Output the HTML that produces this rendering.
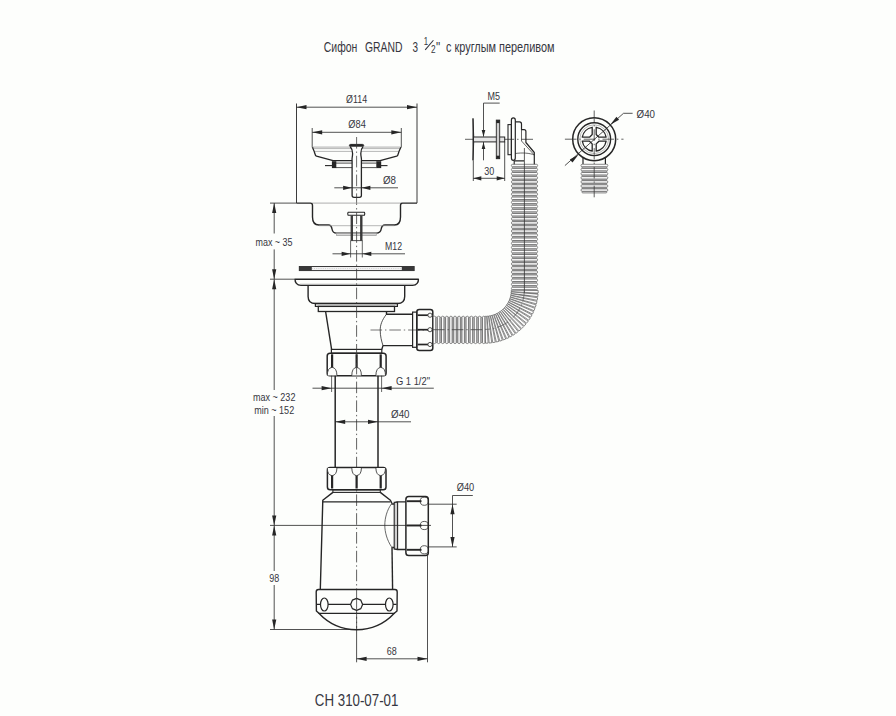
<!DOCTYPE html>
<html><head><meta charset="utf-8"><style>
html,body{margin:0;padding:0;background:#fdfefc;}
svg{display:block;font-family:"Liberation Sans",sans-serif;}
</style></head><body>
<svg width="896" height="716" viewBox="0 0 896 716">
<rect width="896" height="716" fill="#fdfefc"/>
<text x="323.8" y="52.2" font-size="14.2" text-anchor="start" fill="#363640" textLength="33.6" lengthAdjust="spacingAndGlyphs" >Сифон</text>
<text x="365" y="52.2" font-size="14.2" text-anchor="start" fill="#363640" textLength="37.5" lengthAdjust="spacingAndGlyphs" >GRAND</text>
<text x="412.5" y="52.2" font-size="14.2" text-anchor="start" fill="#363640" textLength="5.5" lengthAdjust="spacingAndGlyphs" >3</text>
<text x="425.9" y="45.3" font-size="10.4" text-anchor="middle" fill="#363640" textLength="4.4" lengthAdjust="spacingAndGlyphs" >1</text>
<line x1="425.2" y1="49.8" x2="433.4" y2="40.25" stroke="#363640" stroke-width="1.1" />
<text x="433.2" y="53" font-size="11" text-anchor="middle" fill="#363640" textLength="4.6" lengthAdjust="spacingAndGlyphs" >2</text>
<text x="436.1" y="52.2" font-size="14.2" text-anchor="start" fill="#363640" textLength="4.2" lengthAdjust="spacingAndGlyphs" >&quot;</text>
<text x="446" y="52.2" font-size="14.2" text-anchor="start" fill="#363640" textLength="108.5" lengthAdjust="spacingAndGlyphs" >с круглым переливом</text>
<line x1="296.5" y1="103.5" x2="296.5" y2="203.1" stroke="#262626" stroke-width="0.9" />
<line x1="417" y1="103.5" x2="417" y2="203.1" stroke="#262626" stroke-width="0.9" />
<line x1="296.5" y1="107.2" x2="417" y2="107.2" stroke="#262626" stroke-width="0.8" />
<polygon points="296.5,107.2 306.5,105.1 306.5,109.3" fill="#262626"/>
<polygon points="417,107.2 407,109.3 407,105.1" fill="#262626"/>
<text x="356.6" y="103" font-size="10.5" text-anchor="middle" fill="#363640" textLength="21" lengthAdjust="spacingAndGlyphs" >Ø114</text>
<line x1="312.2" y1="128" x2="312.2" y2="147.5" stroke="#262626" stroke-width="0.8" />
<line x1="401.3" y1="128" x2="401.3" y2="147.5" stroke="#262626" stroke-width="0.8" />
<line x1="312.2" y1="132.3" x2="401.3" y2="132.3" stroke="#262626" stroke-width="0.8" />
<polygon points="312.2,132.3 322.2,130.2 322.2,134.4" fill="#262626"/>
<polygon points="401.3,132.3 391.3,134.4 391.3,130.2" fill="#262626"/>
<text x="357.1" y="128.2" font-size="10.5" text-anchor="middle" fill="#363640" textLength="17.5" lengthAdjust="spacingAndGlyphs" >Ø84</text>
<line x1="312.5" y1="147.1" x2="401.2" y2="147.1" stroke="#9a9a9a" stroke-width="0.8" />
<line x1="313.5" y1="148.6" x2="400.2" y2="148.6" stroke="#9a9a9a" stroke-width="0.7" />
<line x1="314.5" y1="151.4" x2="399" y2="151.4" stroke="#9a9a9a" stroke-width="0.7" />
<path d="M312.5,147.2 C313.2,149.5 314.4,151.5 314.5,152.5 C315,154.5 315.5,155.8 316.5,156.2 L333.1,160.7 L380.1,160.7 L396.7,156.2 C397.7,155.8 398.2,154.5 398.7,152.5 C398.8,151.5 400,149.5 400.8,147.2" stroke="#262626" stroke-width="1.3" fill="none" stroke-linejoin="round" />
<line x1="336" y1="163.1" x2="376.5" y2="163.1" stroke="#262626" stroke-width="0.8" />
<line x1="336" y1="167.6" x2="376.5" y2="167.6" stroke="#262626" stroke-width="0.8" />
<rect x="331.9" y="161.2" width="4.4" height="6.9" rx="0" stroke="#262626" stroke-width="0" fill="#262626" />
<rect x="376.3" y="161.2" width="4.9" height="6.9" rx="0" stroke="#262626" stroke-width="0" fill="#262626" />
<line x1="325" y1="165.6" x2="332" y2="165.6" stroke="#262626" stroke-width="1.1" />
<line x1="381" y1="165.6" x2="387.5" y2="165.6" stroke="#262626" stroke-width="1.1" />
<path d="M350.2,146.7 L349.4,145.6 Q349.4,144.4 350.6,144.4 L362.5,144.4 Q363.7,144.4 363.7,145.6 L362.9,146.7 Z" stroke="#262626" stroke-width="1.0" fill="#262626" stroke-linejoin="round" />
<path d="M350.3,146.7 C352,148.5 352.6,150 352.6,153.4 C352.6,157 351.6,158.5 352.1,161 L352.1,195.5 Q352.1,197.3 354,197.3 L359.5,197.3 Q361.4,197.3 361.4,195.5 L361.4,161 C361.9,158.5 360.8,157 360.8,153.4 C360.8,150 361.5,148.5 363,146.7" stroke="#262626" stroke-width="1.3" fill="#fdfefc" stroke-linejoin="round" />
<line x1="356.6" y1="137" x2="356.6" y2="205" stroke="#3a3a3a" stroke-width="0.75" stroke-dasharray="11.6,2.9,1.4,2.9" stroke-dashoffset="0"/>
<line x1="334.3" y1="187.8" x2="398" y2="187.8" stroke="#262626" stroke-width="0.8" />
<polygon points="352.1,187.8 343.1,189.9 343.1,185.7" fill="#262626"/>
<polygon points="361.4,187.8 370.4,185.7 370.4,189.9" fill="#262626"/>
<text x="389.5" y="184" font-size="10.5" text-anchor="middle" fill="#363640" textLength="13" lengthAdjust="spacingAndGlyphs" >Ø8</text>
<line x1="270" y1="203.1" x2="296.5" y2="203.1" stroke="#262626" stroke-width="0.8" />
<line x1="312" y1="203.1" x2="401.9" y2="203.1" stroke="#9a9a9a" stroke-width="0.8" />
<path d="M296.5,203.1 L310.5,203.1 Q312.5,203.1 312.5,205.5 L312.5,217 C312.5,222.5 314.5,225 319,225 L328.5,225 C331,225 331.6,226.5 332,229 C332.5,232 333.5,233.1 336.5,233.1 L376.2,233.1 C379.5,233.1 380.8,232 381.2,229 C381.6,226.5 382.2,225 385,225 L394.5,225 C399,225 400.5,222.5 400.5,217 L400.5,205.5 Q400.5,203.1 402.5,203.1 L417,203.1" stroke="#262626" stroke-width="1.4" fill="none" stroke-linejoin="round" />
<line x1="319" y1="225.7" x2="394.5" y2="225.7" stroke="#9a9a9a" stroke-width="0.7" />
<rect x="336.5" y="233.3" width="39.8" height="2.3" rx="0" stroke="#9a9a9a" stroke-width="0.7" fill="#d6d6d6" />
<path d="M348.1,212.3 L364.4,212.3 Q365.2,213.8 364.4,215.3 L348.1,215.3 Q347.3,213.8 348.1,212.3 Z" stroke="#262626" stroke-width="1.1" fill="none" stroke-linejoin="round" />
<rect x="350.6" y="215.5" width="1.9" height="25" rx="0" stroke="#262626" stroke-width="0" fill="#3c3c3c" />
<rect x="360.6" y="215.5" width="1.9" height="25" rx="0" stroke="#262626" stroke-width="0" fill="#3c3c3c" />
<line x1="352.5" y1="215.5" x2="352.5" y2="240.6" stroke="#262626" stroke-width="0.8" />
<line x1="360.6" y1="215.5" x2="360.6" y2="240.6" stroke="#262626" stroke-width="0.8" />
<line x1="350.6" y1="240.6" x2="362.5" y2="240.6" stroke="#262626" stroke-width="0.8" />
<line x1="350.6" y1="240.6" x2="350.6" y2="257.5" stroke="#262626" stroke-width="0.7" />
<line x1="362.3" y1="240.6" x2="362.3" y2="257.5" stroke="#262626" stroke-width="0.7" />
<line x1="332.5" y1="253.8" x2="405" y2="253.8" stroke="#262626" stroke-width="0.8" />
<polygon points="350.6,253.8 341.6,255.9 341.6,251.7" fill="#262626"/>
<polygon points="362.3,253.8 371.3,251.7 371.3,255.9" fill="#262626"/>
<text x="393.5" y="250" font-size="10.5" text-anchor="middle" fill="#363640" textLength="17" lengthAdjust="spacingAndGlyphs" >M12</text>
<rect x="299.3" y="266.5" width="114.8" height="4.1" rx="0" stroke="#262626" stroke-width="0.9" fill="#f2f2f2" />
<line x1="311.8" y1="268.55" x2="401.8" y2="268.55" stroke="#bbb" stroke-width="0.6" stroke-dasharray="1,1.2"/>
<rect x="299" y="266.3" width="12.8" height="4.5" rx="0" stroke="#262626" stroke-width="0" fill="#383838" />
<rect x="401.8" y="266.3" width="12.5" height="4.5" rx="0" stroke="#262626" stroke-width="0" fill="#383838" />
<line x1="274.2" y1="203.1" x2="274.2" y2="233.5" stroke="#262626" stroke-width="0.8" />
<line x1="274.2" y1="249.4" x2="274.2" y2="279" stroke="#262626" stroke-width="0.8" />
<polygon points="274.2,203.1 276.3,213.1 272.1,213.1" fill="#262626"/>
<polygon points="274.2,279.2 272.1,269.2 276.3,269.2" fill="#262626"/>
<text x="274" y="246" font-size="10.5" text-anchor="middle" fill="#363640" textLength="37" lengthAdjust="spacingAndGlyphs" >max ~ 35</text>
<line x1="270" y1="279.2" x2="295" y2="279.2" stroke="#262626" stroke-width="0.8" />
<line x1="274.2" y1="279.2" x2="274.2" y2="390" stroke="#262626" stroke-width="0.8" />
<line x1="274.2" y1="416" x2="274.2" y2="525.4" stroke="#262626" stroke-width="0.8" />
<polygon points="274.2,279.2 276.3,289.2 272.1,289.2" fill="#262626"/>
<polygon points="274.2,525.4 272.1,515.4 276.3,515.4" fill="#262626"/>
<text x="274.2" y="400.5" font-size="10.5" text-anchor="middle" fill="#363640" textLength="42.5" lengthAdjust="spacingAndGlyphs" >max ~ 232</text>
<text x="274.2" y="414" font-size="10.5" text-anchor="middle" fill="#363640" textLength="40" lengthAdjust="spacingAndGlyphs" >min ~ 152</text>
<line x1="274.2" y1="525.4" x2="274.2" y2="571" stroke="#262626" stroke-width="0.8" />
<line x1="274.2" y1="585" x2="274.2" y2="629.5" stroke="#262626" stroke-width="0.8" />
<polygon points="274.2,525.4 276.3,535.4 272.1,535.4" fill="#262626"/>
<polygon points="274.2,629.5 272.1,619.5 276.3,619.5" fill="#262626"/>
<text x="274.3" y="582" font-size="10.5" text-anchor="middle" fill="#363640" textLength="10" lengthAdjust="spacingAndGlyphs" >98</text>
<line x1="270" y1="629.5" x2="356.6" y2="629.5" stroke="#262626" stroke-width="0.8" />
<path d="M295.1,279.2 L418.4,279.2 C418.6,282.2 416.8,285.4 412.5,285.4 L301,285.4 C296.7,285.4 294.9,282.2 295.1,279.2 Z" stroke="#262626" stroke-width="1.4" fill="none" stroke-linejoin="round" />
<line x1="300" y1="284.2" x2="413.5" y2="284.2" stroke="#9a9a9a" stroke-width="0.6" />
<path d="M308.1,285.4 L308.1,296.5 C308.1,301 310.5,303.5 315.4,303.5 L397.4,303.5 C402.3,303.5 404.7,301 404.7,296.5 L404.7,285.4" stroke="#262626" stroke-width="1.4" fill="none" stroke-linejoin="round" />
<rect x="315.4" y="303.5" width="82" height="2.9" rx="0" stroke="#262626" stroke-width="1.2" fill="none" />
<rect x="318.3" y="306.4" width="76.2" height="5.1" rx="0" stroke="#262626" stroke-width="1.3" fill="none" />
<path d="M325.6,311.5 L331.6,349.4" stroke="#262626" stroke-width="1.4" fill="none" stroke-linejoin="round" />
<path d="M386.5,311.5 L386.5,314.2 L412.6,314.2" stroke="#262626" stroke-width="1.4" fill="none" stroke-linejoin="round" />
<path d="M412.6,345.6 L383,345.6 L381.8,349.4" stroke="#262626" stroke-width="1.4" fill="none" stroke-linejoin="round" />
<path d="M386.5,314.2 C382,320 380.2,325 380.2,330 C380.2,336 381.5,341 383,345.6" stroke="#262626" stroke-width="0.8" fill="none" stroke-linejoin="round" />
<rect x="331.4" y="349.4" width="50.4" height="3.8" rx="0" stroke="#262626" stroke-width="1.2" fill="none" />
<line x1="370.5" y1="330" x2="433" y2="330" stroke="#4a4a4a" stroke-width="0.75" stroke-dasharray="11.6,2.9,1.4,2.9" stroke-dashoffset="0"/>
<rect x="412.6" y="312.1" width="4.2" height="35.2" rx="0" stroke="#262626" stroke-width="1.2" fill="none" />
<rect x="416.8" y="309.4" width="16" height="41" rx="2.5" stroke="#262626" stroke-width="1.5" fill="none" />
<line x1="417.6" y1="315.2" x2="428.3" y2="315.2" stroke="#262626" stroke-width="1.7" />
<circle cx="430" cy="315.2" r="2.1" fill="#fdfefc" stroke="#262626" stroke-width="0.8"/>
<line x1="417.6" y1="329.7" x2="428.3" y2="329.7" stroke="#262626" stroke-width="1.7" />
<circle cx="430" cy="329.7" r="2.1" fill="#fdfefc" stroke="#262626" stroke-width="0.8"/>
<line x1="417.6" y1="344.5" x2="428.3" y2="344.5" stroke="#262626" stroke-width="1.7" />
<circle cx="430" cy="344.5" r="2.1" fill="#fdfefc" stroke="#262626" stroke-width="0.8"/>
<rect x="327.2" y="353.2" width="58.9" height="22.5" rx="2.8" stroke="#262626" stroke-width="1.5" fill="none" />
<rect x="331" y="354.3" width="2.2" height="14" rx="0" stroke="#262626" stroke-width="0" fill="#262626" />
<path d="M327.3,375.5 Q327.3,368 332.1,367.3 Q336.9,368 336.9,375.5" stroke="#262626" stroke-width="0.8" fill="#fdfefc" stroke-linejoin="round" />
<rect x="355.5" y="354.3" width="2.2" height="14" rx="0" stroke="#262626" stroke-width="0" fill="#262626" />
<path d="M351.8,375.5 Q351.8,368 356.6,367.3 Q361.4,368 361.4,375.5" stroke="#262626" stroke-width="0.8" fill="#fdfefc" stroke-linejoin="round" />
<rect x="379.6" y="354.3" width="2.2" height="14" rx="0" stroke="#262626" stroke-width="0" fill="#262626" />
<path d="M375.9,375.5 Q375.9,368 380.7,367.3 Q385.5,368 385.5,375.5" stroke="#262626" stroke-width="0.8" fill="#fdfefc" stroke-linejoin="round" />
<line x1="335.2" y1="375.7" x2="335.2" y2="467.6" stroke="#262626" stroke-width="1.5" />
<line x1="378" y1="375.7" x2="378" y2="467.6" stroke="#262626" stroke-width="1.5" />
<line x1="331.6" y1="375.7" x2="331.6" y2="392" stroke="#262626" stroke-width="0.7" />
<line x1="381.6" y1="375.7" x2="381.6" y2="392" stroke="#262626" stroke-width="0.7" />
<line x1="356.6" y1="207" x2="356.6" y2="629.5" stroke="#3a3a3a" stroke-width="0.8" stroke-dasharray="11.6,2.9,1.4,2.9" stroke-dashoffset="13.4"/>
<line x1="312.5" y1="388.2" x2="433.8" y2="388.2" stroke="#262626" stroke-width="0.8" />
<polygon points="331.6,388.2 321.6,390.3 321.6,386.1" fill="#262626"/>
<polygon points="381.6,388.2 391.6,386.1 391.6,390.3" fill="#262626"/>
<text x="413" y="384.5" font-size="10.5" text-anchor="middle" fill="#363640" textLength="34" lengthAdjust="spacingAndGlyphs" >G 1 1/2&quot;</text>
<line x1="335.2" y1="421.8" x2="411" y2="421.8" stroke="#262626" stroke-width="0.8" />
<polygon points="335.2,421.8 345.2,419.7 345.2,423.9" fill="#262626"/>
<polygon points="378,421.8 368,423.9 368,419.7" fill="#262626"/>
<text x="400.3" y="418.3" font-size="10.5" text-anchor="middle" fill="#363640" textLength="18.5" lengthAdjust="spacingAndGlyphs" >Ø40</text>
<rect x="327.4" y="467.6" width="58.6" height="22.2" rx="2.8" stroke="#262626" stroke-width="1.5" fill="none" />
<rect x="331" y="474" width="2.2" height="14.5" rx="0" stroke="#262626" stroke-width="0" fill="#262626" />
<path d="M327.3,467.9 Q327.3,475 332.1,475.7 Q336.9,475 336.9,467.9" stroke="#262626" stroke-width="0.8" fill="#fdfefc" stroke-linejoin="round" />
<rect x="355.5" y="474" width="2.2" height="14.5" rx="0" stroke="#262626" stroke-width="0" fill="#262626" />
<path d="M351.8,467.9 Q351.8,475 356.6,475.7 Q361.4,475 361.4,467.9" stroke="#262626" stroke-width="0.8" fill="#fdfefc" stroke-linejoin="round" />
<rect x="379.6" y="474" width="2.2" height="14.5" rx="0" stroke="#262626" stroke-width="0" fill="#262626" />
<path d="M375.9,467.9 Q375.9,475 380.7,475.7 Q385.5,475 385.5,467.9" stroke="#262626" stroke-width="0.8" fill="#fdfefc" stroke-linejoin="round" />
<rect x="332.9" y="489.8" width="47.4" height="2.6" rx="0" stroke="#262626" stroke-width="1.1" fill="none" />
<path d="M332.9,492.4 L322.8,500.2 L320.3,589.5" stroke="#262626" stroke-width="1.4" fill="none" stroke-linejoin="round" />
<path d="M380.3,492.4 L390.4,500.2 L392,503.5" stroke="#262626" stroke-width="1.4" fill="none" stroke-linejoin="round" />
<path d="M392,546.7 L392.6,589.5" stroke="#262626" stroke-width="1.4" fill="none" stroke-linejoin="round" />
<line x1="322.8" y1="501.9" x2="390.4" y2="501.9" stroke="#262626" stroke-width="1.2" />
<path d="M391.4,504 L394.2,504 L394.2,504 Q394.8,501.8 397,501.8 L405.8,501.8" stroke="#262626" stroke-width="1.3" fill="none" stroke-linejoin="round" />
<path d="M392.3,547.5 L394.2,547.5 Q394.8,549.5 397,549.5 L405.8,549.5" stroke="#262626" stroke-width="1.3" fill="none" stroke-linejoin="round" />
<rect x="394.2" y="502.3" width="3.4" height="46.8" rx="0" stroke="#262626" stroke-width="1.1" fill="#d0d0d0" />
<path d="M391.4,504 C387,510 384.8,518 384.8,525.3 C384.8,532 387,540 391.4,546.7" stroke="#262626" stroke-width="0.7" fill="none" stroke-linejoin="round" />
<circle cx="424.3" cy="501.2" r="4.1" fill="#fdfefc" stroke="#262626" stroke-width="0.75"/>
<line x1="406.8" y1="501.2" x2="421.5" y2="501.2" stroke="#262626" stroke-width="1.9" />
<circle cx="424.3" cy="525.5" r="4.1" fill="#fdfefc" stroke="#262626" stroke-width="0.75"/>
<line x1="406.8" y1="525.5" x2="421.5" y2="525.5" stroke="#262626" stroke-width="1.9" />
<circle cx="424.3" cy="549.8" r="4.1" fill="#fdfefc" stroke="#262626" stroke-width="0.75"/>
<line x1="406.8" y1="549.8" x2="421.5" y2="549.8" stroke="#262626" stroke-width="1.9" />
<rect x="405.9" y="496.5" width="22.4" height="59" rx="2.8" stroke="#262626" stroke-width="1.5" fill="none" />
<line x1="270" y1="525.4" x2="431" y2="525.4" stroke="#262626" stroke-width="0.8" />
<line x1="428.4" y1="504.2" x2="456.7" y2="504.2" stroke="#262626" stroke-width="0.8" />
<line x1="428.4" y1="546.9" x2="456.7" y2="546.9" stroke="#262626" stroke-width="0.8" />
<line x1="452.5" y1="495.5" x2="452.5" y2="546.9" stroke="#262626" stroke-width="0.8" />
<line x1="452.5" y1="495.5" x2="472.8" y2="495.5" stroke="#262626" stroke-width="0.8" />
<polygon points="452.5,504.2 454.6,514.2 450.4,514.2" fill="#262626"/>
<polygon points="452.5,546.9 450.4,536.9 454.6,536.9" fill="#262626"/>
<text x="465.5" y="491.3" font-size="10.5" text-anchor="middle" fill="#363640" textLength="17.5" lengthAdjust="spacingAndGlyphs" >Ø40</text>
<line x1="427.5" y1="555.5" x2="427.5" y2="662.3" stroke="#262626" stroke-width="0.8" />
<line x1="356.6" y1="629.5" x2="356.6" y2="662.3" stroke="#262626" stroke-width="0.8" />
<line x1="356.6" y1="658.8" x2="427.5" y2="658.8" stroke="#262626" stroke-width="0.8" />
<polygon points="356.6,658.8 366.6,656.7 366.6,660.9" fill="#262626"/>
<polygon points="427.5,658.8 417.5,660.9 417.5,656.7" fill="#262626"/>
<text x="391.8" y="654.6" font-size="10.5" text-anchor="middle" fill="#363640" textLength="10" lengthAdjust="spacingAndGlyphs" >68</text>
<path d="M318.5,589.5 L395,589.5 Q397.2,589.5 397.2,592 L397,611 L394.3,613.3 A51.5,51.5 0 0 1 318.9,613.3 L316.4,611 L316.2,592 Q316.2,589.5 318.5,589.5 Z" stroke="#262626" stroke-width="1.4" fill="none" stroke-linejoin="round" />
<line x1="317" y1="604.3" x2="396.5" y2="604.3" stroke="#262626" stroke-width="1.3" />
<line x1="318.5" y1="613.3" x2="394.7" y2="613.3" stroke="#262626" stroke-width="1.3" />
<ellipse cx="324.3" cy="604.5" rx="3.8" ry="6.5" fill="#fdfefc" stroke="#262626" stroke-width="1.2"/>
<ellipse cx="389.3" cy="604.5" rx="3.8" ry="6.5" fill="#fdfefc" stroke="#262626" stroke-width="1.2"/>
<polygon points="362.6,604.4 360.84,608.64 356.6,610.4 352.36,608.64 350.6,604.4 352.36,600.16 356.6,598.4 360.84,600.16" fill="#fdfefc" stroke="#262626" stroke-width="1.2" stroke-linejoin="round"/>
<line x1="356.6" y1="598" x2="356.6" y2="629.5" stroke="#3a3a3a" stroke-width="0.8" stroke-dasharray="11.6,2.9,1.4,2.9" stroke-dashoffset="0"/>
<text x="356.6" y="706" font-size="16.5" text-anchor="middle" fill="#363640" textLength="83.5" lengthAdjust="spacingAndGlyphs" >CH 310-07-01</text>
<rect x="512.4" y="166.7" width="24.2" height="1.7" rx="0.8" stroke="#5a5a5a" stroke-width="0.6" fill="#d6d6d6" />
<rect x="511.4" y="164.3" width="26.2" height="2.4" rx="1.1" stroke="#5a5a5a" stroke-width="0.7" fill="#fbfbfb" />
<rect x="512.4" y="170.8" width="24.2" height="1.7" rx="0.8" stroke="#5a5a5a" stroke-width="0.6" fill="#d6d6d6" />
<rect x="511.4" y="168.4" width="26.2" height="2.4" rx="1.1" stroke="#5a5a5a" stroke-width="0.7" fill="#fbfbfb" />
<rect x="512.4" y="174.9" width="24.2" height="1.7" rx="0.8" stroke="#5a5a5a" stroke-width="0.6" fill="#d6d6d6" />
<rect x="511.4" y="172.5" width="26.2" height="2.4" rx="1.1" stroke="#5a5a5a" stroke-width="0.7" fill="#fbfbfb" />
<rect x="512.4" y="179" width="24.2" height="1.7" rx="0.8" stroke="#5a5a5a" stroke-width="0.6" fill="#d6d6d6" />
<rect x="511.4" y="176.6" width="26.2" height="2.4" rx="1.1" stroke="#5a5a5a" stroke-width="0.7" fill="#fbfbfb" />
<rect x="512.4" y="183.1" width="24.2" height="1.7" rx="0.8" stroke="#5a5a5a" stroke-width="0.6" fill="#d6d6d6" />
<rect x="511.4" y="180.7" width="26.2" height="2.4" rx="1.1" stroke="#5a5a5a" stroke-width="0.7" fill="#fbfbfb" />
<rect x="512.4" y="187.2" width="24.2" height="1.7" rx="0.8" stroke="#5a5a5a" stroke-width="0.6" fill="#d6d6d6" />
<rect x="511.4" y="184.8" width="26.2" height="2.4" rx="1.1" stroke="#5a5a5a" stroke-width="0.7" fill="#fbfbfb" />
<rect x="512.4" y="191.3" width="24.2" height="1.7" rx="0.8" stroke="#5a5a5a" stroke-width="0.6" fill="#d6d6d6" />
<rect x="511.4" y="188.9" width="26.2" height="2.4" rx="1.1" stroke="#5a5a5a" stroke-width="0.7" fill="#fbfbfb" />
<rect x="512.4" y="195.4" width="24.2" height="1.7" rx="0.8" stroke="#5a5a5a" stroke-width="0.6" fill="#d6d6d6" />
<rect x="511.4" y="193" width="26.2" height="2.4" rx="1.1" stroke="#5a5a5a" stroke-width="0.7" fill="#fbfbfb" />
<rect x="512.4" y="199.5" width="24.2" height="1.7" rx="0.8" stroke="#5a5a5a" stroke-width="0.6" fill="#d6d6d6" />
<rect x="511.4" y="197.1" width="26.2" height="2.4" rx="1.1" stroke="#5a5a5a" stroke-width="0.7" fill="#fbfbfb" />
<rect x="512.4" y="203.6" width="24.2" height="1.7" rx="0.8" stroke="#5a5a5a" stroke-width="0.6" fill="#d6d6d6" />
<rect x="511.4" y="201.2" width="26.2" height="2.4" rx="1.1" stroke="#5a5a5a" stroke-width="0.7" fill="#fbfbfb" />
<rect x="512.4" y="207.7" width="24.2" height="1.7" rx="0.8" stroke="#5a5a5a" stroke-width="0.6" fill="#d6d6d6" />
<rect x="511.4" y="205.3" width="26.2" height="2.4" rx="1.1" stroke="#5a5a5a" stroke-width="0.7" fill="#fbfbfb" />
<rect x="512.4" y="211.8" width="24.2" height="1.7" rx="0.8" stroke="#5a5a5a" stroke-width="0.6" fill="#d6d6d6" />
<rect x="511.4" y="209.4" width="26.2" height="2.4" rx="1.1" stroke="#5a5a5a" stroke-width="0.7" fill="#fbfbfb" />
<rect x="512.4" y="215.9" width="24.2" height="1.7" rx="0.8" stroke="#5a5a5a" stroke-width="0.6" fill="#d6d6d6" />
<rect x="511.4" y="213.5" width="26.2" height="2.4" rx="1.1" stroke="#5a5a5a" stroke-width="0.7" fill="#fbfbfb" />
<rect x="512.4" y="220" width="24.2" height="1.7" rx="0.8" stroke="#5a5a5a" stroke-width="0.6" fill="#d6d6d6" />
<rect x="511.4" y="217.6" width="26.2" height="2.4" rx="1.1" stroke="#5a5a5a" stroke-width="0.7" fill="#fbfbfb" />
<rect x="512.4" y="224.1" width="24.2" height="1.7" rx="0.8" stroke="#5a5a5a" stroke-width="0.6" fill="#d6d6d6" />
<rect x="511.4" y="221.7" width="26.2" height="2.4" rx="1.1" stroke="#5a5a5a" stroke-width="0.7" fill="#fbfbfb" />
<rect x="512.4" y="228.2" width="24.2" height="1.7" rx="0.8" stroke="#5a5a5a" stroke-width="0.6" fill="#d6d6d6" />
<rect x="511.4" y="225.8" width="26.2" height="2.4" rx="1.1" stroke="#5a5a5a" stroke-width="0.7" fill="#fbfbfb" />
<rect x="512.4" y="232.3" width="24.2" height="1.7" rx="0.8" stroke="#5a5a5a" stroke-width="0.6" fill="#d6d6d6" />
<rect x="511.4" y="229.9" width="26.2" height="2.4" rx="1.1" stroke="#5a5a5a" stroke-width="0.7" fill="#fbfbfb" />
<rect x="512.4" y="236.4" width="24.2" height="1.7" rx="0.8" stroke="#5a5a5a" stroke-width="0.6" fill="#d6d6d6" />
<rect x="511.4" y="234" width="26.2" height="2.4" rx="1.1" stroke="#5a5a5a" stroke-width="0.7" fill="#fbfbfb" />
<rect x="512.4" y="240.5" width="24.2" height="1.7" rx="0.8" stroke="#5a5a5a" stroke-width="0.6" fill="#d6d6d6" />
<rect x="511.4" y="238.1" width="26.2" height="2.4" rx="1.1" stroke="#5a5a5a" stroke-width="0.7" fill="#fbfbfb" />
<rect x="512.4" y="244.6" width="24.2" height="1.7" rx="0.8" stroke="#5a5a5a" stroke-width="0.6" fill="#d6d6d6" />
<rect x="511.4" y="242.2" width="26.2" height="2.4" rx="1.1" stroke="#5a5a5a" stroke-width="0.7" fill="#fbfbfb" />
<rect x="512.4" y="248.7" width="24.2" height="1.7" rx="0.8" stroke="#5a5a5a" stroke-width="0.6" fill="#d6d6d6" />
<rect x="511.4" y="246.3" width="26.2" height="2.4" rx="1.1" stroke="#5a5a5a" stroke-width="0.7" fill="#fbfbfb" />
<rect x="512.4" y="252.8" width="24.2" height="1.7" rx="0.8" stroke="#5a5a5a" stroke-width="0.6" fill="#d6d6d6" />
<rect x="511.4" y="250.4" width="26.2" height="2.4" rx="1.1" stroke="#5a5a5a" stroke-width="0.7" fill="#fbfbfb" />
<rect x="512.4" y="256.9" width="24.2" height="1.7" rx="0.8" stroke="#5a5a5a" stroke-width="0.6" fill="#d6d6d6" />
<rect x="511.4" y="254.5" width="26.2" height="2.4" rx="1.1" stroke="#5a5a5a" stroke-width="0.7" fill="#fbfbfb" />
<rect x="512.4" y="261" width="24.2" height="1.7" rx="0.8" stroke="#5a5a5a" stroke-width="0.6" fill="#d6d6d6" />
<rect x="511.4" y="258.6" width="26.2" height="2.4" rx="1.1" stroke="#5a5a5a" stroke-width="0.7" fill="#fbfbfb" />
<rect x="512.4" y="265.1" width="24.2" height="1.7" rx="0.8" stroke="#5a5a5a" stroke-width="0.6" fill="#d6d6d6" />
<rect x="511.4" y="262.7" width="26.2" height="2.4" rx="1.1" stroke="#5a5a5a" stroke-width="0.7" fill="#fbfbfb" />
<rect x="512.4" y="269.2" width="24.2" height="1.7" rx="0.8" stroke="#5a5a5a" stroke-width="0.6" fill="#d6d6d6" />
<rect x="511.4" y="266.8" width="26.2" height="2.4" rx="1.1" stroke="#5a5a5a" stroke-width="0.7" fill="#fbfbfb" />
<rect x="512.4" y="273.3" width="24.2" height="1.7" rx="0.8" stroke="#5a5a5a" stroke-width="0.6" fill="#d6d6d6" />
<rect x="511.4" y="270.9" width="26.2" height="2.4" rx="1.1" stroke="#5a5a5a" stroke-width="0.7" fill="#fbfbfb" />
<rect x="512.4" y="277.4" width="24.2" height="1.7" rx="0.8" stroke="#5a5a5a" stroke-width="0.6" fill="#d6d6d6" />
<rect x="511.4" y="275" width="26.2" height="2.4" rx="1.1" stroke="#5a5a5a" stroke-width="0.7" fill="#fbfbfb" />
<rect x="512.4" y="281.5" width="24.2" height="1.7" rx="0.8" stroke="#5a5a5a" stroke-width="0.6" fill="#d6d6d6" />
<rect x="511.4" y="279.1" width="26.2" height="2.4" rx="1.1" stroke="#5a5a5a" stroke-width="0.7" fill="#fbfbfb" />
<rect x="512.4" y="285.6" width="24.2" height="1.7" rx="0.8" stroke="#5a5a5a" stroke-width="0.6" fill="#d6d6d6" />
<rect x="511.4" y="283.2" width="26.2" height="2.4" rx="1.1" stroke="#5a5a5a" stroke-width="0.7" fill="#fbfbfb" />
<rect x="512.4" y="289.7" width="24.2" height="1.7" rx="0.8" stroke="#5a5a5a" stroke-width="0.6" fill="#d6d6d6" />
<rect x="511.4" y="287.3" width="26.2" height="2.4" rx="1.1" stroke="#5a5a5a" stroke-width="0.7" fill="#fbfbfb" />
<rect x="512.4" y="293.8" width="24.2" height="1.7" rx="0.8" stroke="#5a5a5a" stroke-width="0.6" fill="#d6d6d6" />
<rect x="511.4" y="291.4" width="26.2" height="2.4" rx="1.1" stroke="#5a5a5a" stroke-width="0.7" fill="#fbfbfb" />
<rect x="435.7" y="317.2" width="1.7" height="25.4" rx="0.8" stroke="#5a5a5a" stroke-width="0.6" fill="#d6d6d6" />
<rect x="433.3" y="316.2" width="2.4" height="27.4" rx="1.1" stroke="#5a5a5a" stroke-width="0.7" fill="#fbfbfb" />
<rect x="439.8" y="317.2" width="1.7" height="25.4" rx="0.8" stroke="#5a5a5a" stroke-width="0.6" fill="#d6d6d6" />
<rect x="437.4" y="316.2" width="2.4" height="27.4" rx="1.1" stroke="#5a5a5a" stroke-width="0.7" fill="#fbfbfb" />
<rect x="443.9" y="317.2" width="1.7" height="25.4" rx="0.8" stroke="#5a5a5a" stroke-width="0.6" fill="#d6d6d6" />
<rect x="441.5" y="316.2" width="2.4" height="27.4" rx="1.1" stroke="#5a5a5a" stroke-width="0.7" fill="#fbfbfb" />
<rect x="448" y="317.2" width="1.7" height="25.4" rx="0.8" stroke="#5a5a5a" stroke-width="0.6" fill="#d6d6d6" />
<rect x="445.6" y="316.2" width="2.4" height="27.4" rx="1.1" stroke="#5a5a5a" stroke-width="0.7" fill="#fbfbfb" />
<rect x="452.1" y="317.2" width="1.7" height="25.4" rx="0.8" stroke="#5a5a5a" stroke-width="0.6" fill="#d6d6d6" />
<rect x="449.7" y="316.2" width="2.4" height="27.4" rx="1.1" stroke="#5a5a5a" stroke-width="0.7" fill="#fbfbfb" />
<rect x="456.2" y="317.2" width="1.7" height="25.4" rx="0.8" stroke="#5a5a5a" stroke-width="0.6" fill="#d6d6d6" />
<rect x="453.8" y="316.2" width="2.4" height="27.4" rx="1.1" stroke="#5a5a5a" stroke-width="0.7" fill="#fbfbfb" />
<rect x="460.3" y="317.2" width="1.7" height="25.4" rx="0.8" stroke="#5a5a5a" stroke-width="0.6" fill="#d6d6d6" />
<rect x="457.9" y="316.2" width="2.4" height="27.4" rx="1.1" stroke="#5a5a5a" stroke-width="0.7" fill="#fbfbfb" />
<rect x="464.4" y="317.2" width="1.7" height="25.4" rx="0.8" stroke="#5a5a5a" stroke-width="0.6" fill="#d6d6d6" />
<rect x="462" y="316.2" width="2.4" height="27.4" rx="1.1" stroke="#5a5a5a" stroke-width="0.7" fill="#fbfbfb" />
<rect x="468.5" y="317.2" width="1.7" height="25.4" rx="0.8" stroke="#5a5a5a" stroke-width="0.6" fill="#d6d6d6" />
<rect x="466.1" y="316.2" width="2.4" height="27.4" rx="1.1" stroke="#5a5a5a" stroke-width="0.7" fill="#fbfbfb" />
<rect x="472.6" y="317.2" width="1.7" height="25.4" rx="0.8" stroke="#5a5a5a" stroke-width="0.6" fill="#d6d6d6" />
<rect x="470.2" y="316.2" width="2.4" height="27.4" rx="1.1" stroke="#5a5a5a" stroke-width="0.7" fill="#fbfbfb" />
<rect x="476.7" y="317.2" width="1.7" height="25.4" rx="0.8" stroke="#5a5a5a" stroke-width="0.6" fill="#d6d6d6" />
<rect x="474.3" y="316.2" width="2.4" height="27.4" rx="1.1" stroke="#5a5a5a" stroke-width="0.7" fill="#fbfbfb" />
<rect x="480.8" y="317.2" width="1.7" height="25.4" rx="0.8" stroke="#5a5a5a" stroke-width="0.6" fill="#d6d6d6" />
<rect x="478.4" y="316.2" width="2.4" height="27.4" rx="1.1" stroke="#5a5a5a" stroke-width="0.7" fill="#fbfbfb" />
<rect x="484.9" y="317.2" width="1.7" height="25.4" rx="0.8" stroke="#5a5a5a" stroke-width="0.6" fill="#d6d6d6" />
<rect x="482.5" y="316.2" width="2.4" height="27.4" rx="1.1" stroke="#5a5a5a" stroke-width="0.7" fill="#fbfbfb" />
<polygon points="511.31,290.15 538.21,290.52 538.12,293.12 511.26,291.65" fill="#fbfbfb" stroke="#5a5a5a" stroke-width="0.7" stroke-linejoin="round"/>
<polygon points="511.24,291.94 538.05,294.15 537.79,296.73 511.09,293.44" fill="#fbfbfb" stroke="#5a5a5a" stroke-width="0.7" stroke-linejoin="round"/>
<polygon points="511.05,293.73 537.65,297.76 537.21,300.32 510.79,295.21" fill="#fbfbfb" stroke="#5a5a5a" stroke-width="0.7" stroke-linejoin="round"/>
<polygon points="510.73,295.5 537,301.33 536.38,303.86 510.37,296.96" fill="#fbfbfb" stroke="#5a5a5a" stroke-width="0.7" stroke-linejoin="round"/>
<polygon points="510.29,297.24 536.1,304.85 535.31,307.33 509.84,298.67" fill="#fbfbfb" stroke="#5a5a5a" stroke-width="0.7" stroke-linejoin="round"/>
<polygon points="509.74,298.95 534.97,308.31 534.01,310.73 509.19,300.35" fill="#fbfbfb" stroke="#5a5a5a" stroke-width="0.7" stroke-linejoin="round"/>
<polygon points="509.07,300.62 533.6,311.67 532.49,314.02 508.43,301.97" fill="#fbfbfb" stroke="#5a5a5a" stroke-width="0.7" stroke-linejoin="round"/>
<polygon points="508.29,302.24 532.01,314.94 530.74,317.21 507.56,303.54" fill="#fbfbfb" stroke="#5a5a5a" stroke-width="0.7" stroke-linejoin="round"/>
<polygon points="507.4,303.8 530.2,318.09 528.77,320.26 506.58,305.05" fill="#fbfbfb" stroke="#5a5a5a" stroke-width="0.7" stroke-linejoin="round"/>
<polygon points="506.41,305.29 528.18,321.11 526.6,323.18 505.5,306.49" fill="#fbfbfb" stroke="#5a5a5a" stroke-width="0.7" stroke-linejoin="round"/>
<polygon points="505.32,306.72 525.95,323.98 524.24,325.94 504.33,307.85" fill="#fbfbfb" stroke="#5a5a5a" stroke-width="0.7" stroke-linejoin="round"/>
<polygon points="504.13,308.07 523.54,326.7 521.7,328.54 503.07,309.13" fill="#fbfbfb" stroke="#5a5a5a" stroke-width="0.7" stroke-linejoin="round"/>
<polygon points="502.85,309.33 520.94,329.24 518.98,330.95 501.72,310.32" fill="#fbfbfb" stroke="#5a5a5a" stroke-width="0.7" stroke-linejoin="round"/>
<polygon points="501.49,310.5 518.18,331.6 516.11,333.18 500.29,311.41" fill="#fbfbfb" stroke="#5a5a5a" stroke-width="0.7" stroke-linejoin="round"/>
<polygon points="500.05,311.58 515.26,333.77 513.09,335.2 498.8,312.4" fill="#fbfbfb" stroke="#5a5a5a" stroke-width="0.7" stroke-linejoin="round"/>
<polygon points="498.54,312.56 512.21,335.74 509.94,337.01 497.24,313.29" fill="#fbfbfb" stroke="#5a5a5a" stroke-width="0.7" stroke-linejoin="round"/>
<polygon points="496.97,313.43 509.02,337.49 506.67,338.6 495.62,314.07" fill="#fbfbfb" stroke="#5a5a5a" stroke-width="0.7" stroke-linejoin="round"/>
<polygon points="495.35,314.19 505.73,339.01 503.31,339.97 493.95,314.74" fill="#fbfbfb" stroke="#5a5a5a" stroke-width="0.7" stroke-linejoin="round"/>
<polygon points="493.67,314.84 502.33,340.31 499.85,341.1 492.24,315.29" fill="#fbfbfb" stroke="#5a5a5a" stroke-width="0.7" stroke-linejoin="round"/>
<polygon points="491.96,315.37 498.86,341.38 496.33,342 490.5,315.73" fill="#fbfbfb" stroke="#5a5a5a" stroke-width="0.7" stroke-linejoin="round"/>
<polygon points="490.21,315.79 495.32,342.21 492.76,342.65 488.73,316.05" fill="#fbfbfb" stroke="#5a5a5a" stroke-width="0.7" stroke-linejoin="round"/>
<polygon points="488.44,316.09 491.73,342.79 489.15,343.05 486.94,316.24" fill="#fbfbfb" stroke="#5a5a5a" stroke-width="0.7" stroke-linejoin="round"/>
<polygon points="486.65,316.26 488.12,343.12 485.52,343.21 485.15,316.31" fill="#fbfbfb" stroke="#5a5a5a" stroke-width="0.7" stroke-linejoin="round"/>
<line x1="524.4" y1="148" x2="524.4" y2="293" stroke="#333" stroke-width="0.8" />
<path d="M524.4,290 A39.4,39.4 0 0 1 485,329.4" fill="none" stroke="#555" stroke-width="0.7" stroke-dasharray="11.6,2.9,1.4,2.9"/>
<line x1="433" y1="329.7" x2="485" y2="329.7" stroke="#444" stroke-width="0.8" stroke-dasharray="11.6,2.9,1.4,2.9" stroke-dashoffset="0"/>
<line x1="465" y1="139.3" x2="533.7" y2="139.3" stroke="#3a3a3a" stroke-width="0.8" stroke-dasharray="11.6,2.9,1.4,2.9" stroke-dashoffset="0"/>
<path d="M473,118.4 L473,160.3 Q474.6,139 473,118.4 Z" stroke="#262626" stroke-width="1.0" fill="#262626" stroke-linejoin="round" />
<rect x="473.5" y="137" width="31.2" height="4.9" rx="0" stroke="#262626" stroke-width="1.0" fill="#e6e6e6" />
<rect x="496.3" y="120.1" width="3.4" height="38.6" rx="0" stroke="#262626" stroke-width="0.9" fill="#cfcfcf" />
<rect x="496.3" y="120.1" width="3.4" height="3" rx="0" stroke="#262626" stroke-width="0" fill="#262626" />
<rect x="496.3" y="155.7" width="3.4" height="3" rx="0" stroke="#262626" stroke-width="0" fill="#262626" />
<line x1="483.5" y1="103.1" x2="499.7" y2="103.1" stroke="#262626" stroke-width="0.8" />
<line x1="483.5" y1="103.1" x2="483.5" y2="136.5" stroke="#262626" stroke-width="0.8" />
<polygon points="483.5,137 481.7,130 485.3,130" fill="#262626"/>
<line x1="483.5" y1="142" x2="483.5" y2="160.3" stroke="#262626" stroke-width="0.8" />
<polygon points="483.5,141.9 485.3,148.9 481.7,148.9" fill="#262626"/>
<text x="493.7" y="99.6" font-size="10.5" text-anchor="middle" fill="#363640" textLength="12.5" lengthAdjust="spacingAndGlyphs" >M5</text>
<line x1="473.3" y1="160.3" x2="473.3" y2="181" stroke="#262626" stroke-width="0.8" />
<line x1="504.7" y1="142" x2="504.7" y2="181" stroke="#262626" stroke-width="0.8" />
<line x1="473.3" y1="178.3" x2="504.7" y2="178.3" stroke="#262626" stroke-width="0.8" />
<polygon points="473.3,178.3 481.3,176.2 481.3,180.4" fill="#262626"/>
<polygon points="504.7,178.3 496.7,180.4 496.7,176.2" fill="#262626"/>
<text x="489.3" y="174.6" font-size="10.5" text-anchor="middle" fill="#363640" textLength="10" lengthAdjust="spacingAndGlyphs" >30</text>
<rect x="508" y="124.6" width="3.4" height="30.1" rx="0" stroke="#262626" stroke-width="1.1" fill="none" />
<path d="M513.3,117.9 Q515.3,117.9 515.3,120 L515.3,158 Q515.3,160.3 513.3,160.3 Q511.4,160.3 511.4,158 L511.4,120 Q511.4,117.9 513.3,117.9 Z" stroke="#262626" stroke-width="1.2" fill="none" stroke-linejoin="round" />
<path d="M515.3,121.8 L519.5,121.8 Q521.5,121.8 521.5,124 L521.5,129.6 L524,129.6 Q525.9,129.6 525.9,131.5 L525.9,142.5 L534.3,152.5 L534.3,164.3" stroke="#262626" stroke-width="1.2" fill="none" stroke-linejoin="round" />
<path d="M521.5,129.6 L521.5,141 L534.3,155" stroke="#262626" stroke-width="0.7" fill="none" stroke-linejoin="round" />
<path d="M515.3,153.5 C522,152.5 530,153 534.3,155" stroke="#262626" stroke-width="0.7" fill="none" stroke-linejoin="round" />
<path d="M514.2,160.9 L524,160.9 M514.2,160.9 L514.2,164.3" stroke="#262626" stroke-width="1.1" fill="none" stroke-linejoin="round" />
<path d="M583,157 L583,164 M605.4,157 L605.4,164" stroke="#262626" stroke-width="1.2"/>
<rect x="582" y="166.7" width="24.8" height="1.7" rx="0.8" stroke="#5a5a5a" stroke-width="0.6" fill="#d6d6d6" />
<rect x="581" y="164.3" width="26.8" height="2.4" rx="1.1" stroke="#5a5a5a" stroke-width="0.7" fill="#fbfbfb" />
<rect x="582" y="170.8" width="24.8" height="1.7" rx="0.8" stroke="#5a5a5a" stroke-width="0.6" fill="#d6d6d6" />
<rect x="581" y="168.4" width="26.8" height="2.4" rx="1.1" stroke="#5a5a5a" stroke-width="0.7" fill="#fbfbfb" />
<rect x="582" y="174.9" width="24.8" height="1.7" rx="0.8" stroke="#5a5a5a" stroke-width="0.6" fill="#d6d6d6" />
<rect x="581" y="172.5" width="26.8" height="2.4" rx="1.1" stroke="#5a5a5a" stroke-width="0.7" fill="#fbfbfb" />
<rect x="582" y="179" width="24.8" height="1.7" rx="0.8" stroke="#5a5a5a" stroke-width="0.6" fill="#d6d6d6" />
<rect x="581" y="176.6" width="26.8" height="2.4" rx="1.1" stroke="#5a5a5a" stroke-width="0.7" fill="#fbfbfb" />
<rect x="582" y="183.1" width="24.8" height="1.7" rx="0.8" stroke="#5a5a5a" stroke-width="0.6" fill="#d6d6d6" />
<rect x="581" y="180.7" width="26.8" height="2.4" rx="1.1" stroke="#5a5a5a" stroke-width="0.7" fill="#fbfbfb" />
<rect x="582" y="187.2" width="24.8" height="1.7" rx="0.8" stroke="#5a5a5a" stroke-width="0.6" fill="#d6d6d6" />
<rect x="581" y="184.8" width="26.8" height="2.4" rx="1.1" stroke="#5a5a5a" stroke-width="0.7" fill="#fbfbfb" />
<rect x="582" y="191.3" width="24.8" height="1.7" rx="0.8" stroke="#5a5a5a" stroke-width="0.6" fill="#d6d6d6" />
<rect x="581" y="188.9" width="26.8" height="2.4" rx="1.1" stroke="#5a5a5a" stroke-width="0.7" fill="#fbfbfb" />
<circle cx="594.2" cy="139.2" r="21.5" fill="#fdfefc" stroke="#262626" stroke-width="1.5"/>
<circle cx="594.2" cy="139.2" r="16.4" fill="none" stroke="#262626" stroke-width="1.4"/>
<circle cx="594.2" cy="139.2" r="14.4" fill="none" stroke="#9a9a9a" stroke-width="0.7"/>
<path d="M596.2,143.9 L596.2,151.13 A12.1,12.1 0 0 0 606.13,141.2 L598.9,141.2 Z" stroke="#262626" stroke-width="1.3" fill="none" stroke-linejoin="round" />
<path d="M596.2,134.5 L596.2,127.27 A12.1,12.1 0 0 1 606.13,137.2 L598.9,137.2 Z" stroke="#262626" stroke-width="1.3" fill="none" stroke-linejoin="round" />
<path d="M592.2,143.9 L592.2,151.13 A12.1,12.1 0 0 1 582.27,141.2 L589.5,141.2 Z" stroke="#262626" stroke-width="1.3" fill="none" stroke-linejoin="round" />
<path d="M592.2,134.5 L592.2,127.27 A12.1,12.1 0 0 0 582.27,137.2 L589.5,137.2 Z" stroke="#262626" stroke-width="1.3" fill="none" stroke-linejoin="round" />
<line x1="564.9" y1="139.2" x2="623.5" y2="139.2" stroke="#3a3a3a" stroke-width="0.8" stroke-dasharray="11.6,2.9,1.4,2.9" stroke-dashoffset="0"/>
<line x1="594.2" y1="110.5" x2="594.2" y2="197.8" stroke="#3a3a3a" stroke-width="0.8" stroke-dasharray="11.6,2.9,1.4,2.9" stroke-dashoffset="0"/>
<line x1="564.9" y1="165.6" x2="623.5" y2="113.3" stroke="#262626" stroke-width="0.8" />
<line x1="623.5" y1="113.3" x2="632.6" y2="113.3" stroke="#262626" stroke-width="0.8" />
<polygon points="610.3,124.8 616.43,116.65 619.09,119.63" fill="#262626"/>
<polygon points="578.6,154.4 572.47,162.55 569.81,159.57" fill="#262626"/>
<text x="645.8" y="117.6" font-size="10.5" text-anchor="middle" fill="#363640" textLength="18.5" lengthAdjust="spacingAndGlyphs" >Ø40</text>
</svg></body></html>
